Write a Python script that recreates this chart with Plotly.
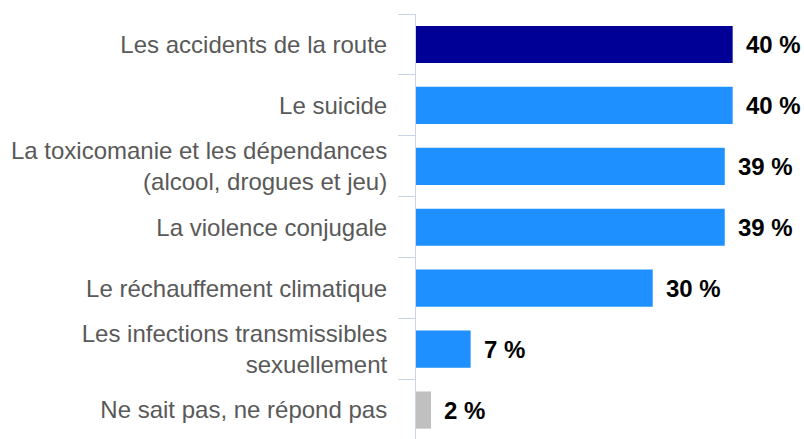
import plotly.graph_objects as go

# categories (top to bottom)
categories = [
    "Les accidents de la route",
    "Le suicide",
    "La toxicomanie et les dépendances<br>(alcool, drogues et jeu)",
    "La violence conjugale",
    "Le réchauffement climatique",
    "Les infections transmissibles<br>sexuellement",
    "Ne sait pas, ne répond pas",
]
values = [40.0, 40.0, 39.0, 39.0, 29.9, 6.9, 1.9]
labels = ["40 %", "40 %", "39 %", "39 %", "30 %", "7 %", "2 %"]
colors = ["#000096", "#1e90ff", "#1e90ff", "#1e90ff", "#1e90ff", "#1e90ff", "#c0c0c0"]

FONT = "Helvetica, Arial, Liberation Sans, sans-serif"
AXIS_COL = "#c9d4e5"

fig = go.Figure()
fig.add_trace(go.Bar(
    x=values, y=categories, orientation="h",
    marker=dict(color=colors, line=dict(width=0)),
    hoverinfo="skip",
))

# valeurs en gras à droite des barres
for cat, v, lab in zip(categories, values, labels):
    fig.add_annotation(
        x=v, y=cat, text="<b>" + lab + "</b>", showarrow=False,
        xanchor="left", yanchor="middle", xshift=11,
        font=dict(family=FONT, size=24, color="#000000"),
    )

fig.update_layout(
    width=804, height=439,
    margin=dict(l=416, r=8, t=14, b=0, autoexpand=False),
    paper_bgcolor="white", plot_bgcolor="white",
    bargap=0.39,
    showlegend=False,
    font=dict(family=FONT, size=24, color="#595959"),
)
fig.update_xaxes(range=[0, 48], visible=False, showgrid=False, zeroline=False,
                 automargin=False)
# dernière catégorie légèrement coupée en bas, comme sur l'original
fig.update_yaxes(
    range=[6.475, -0.5], automargin=False,
    showgrid=False, zeroline=False,
    showline=True, linecolor=AXIS_COL, linewidth=1,
    ticks="outside", tickson="boundaries", ticklen=17, tickcolor=AXIS_COL, tickwidth=1,
    ticklabelstandoff=23,
    tickfont=dict(family=FONT, size=24, color="#595959"),
)

# pas de marge de page autour du graphique
fig.write_html("out.html", config={"displayModeBar": False},
               post_script="document.body.style.margin='0';document.body.style.overflow='hidden';")
